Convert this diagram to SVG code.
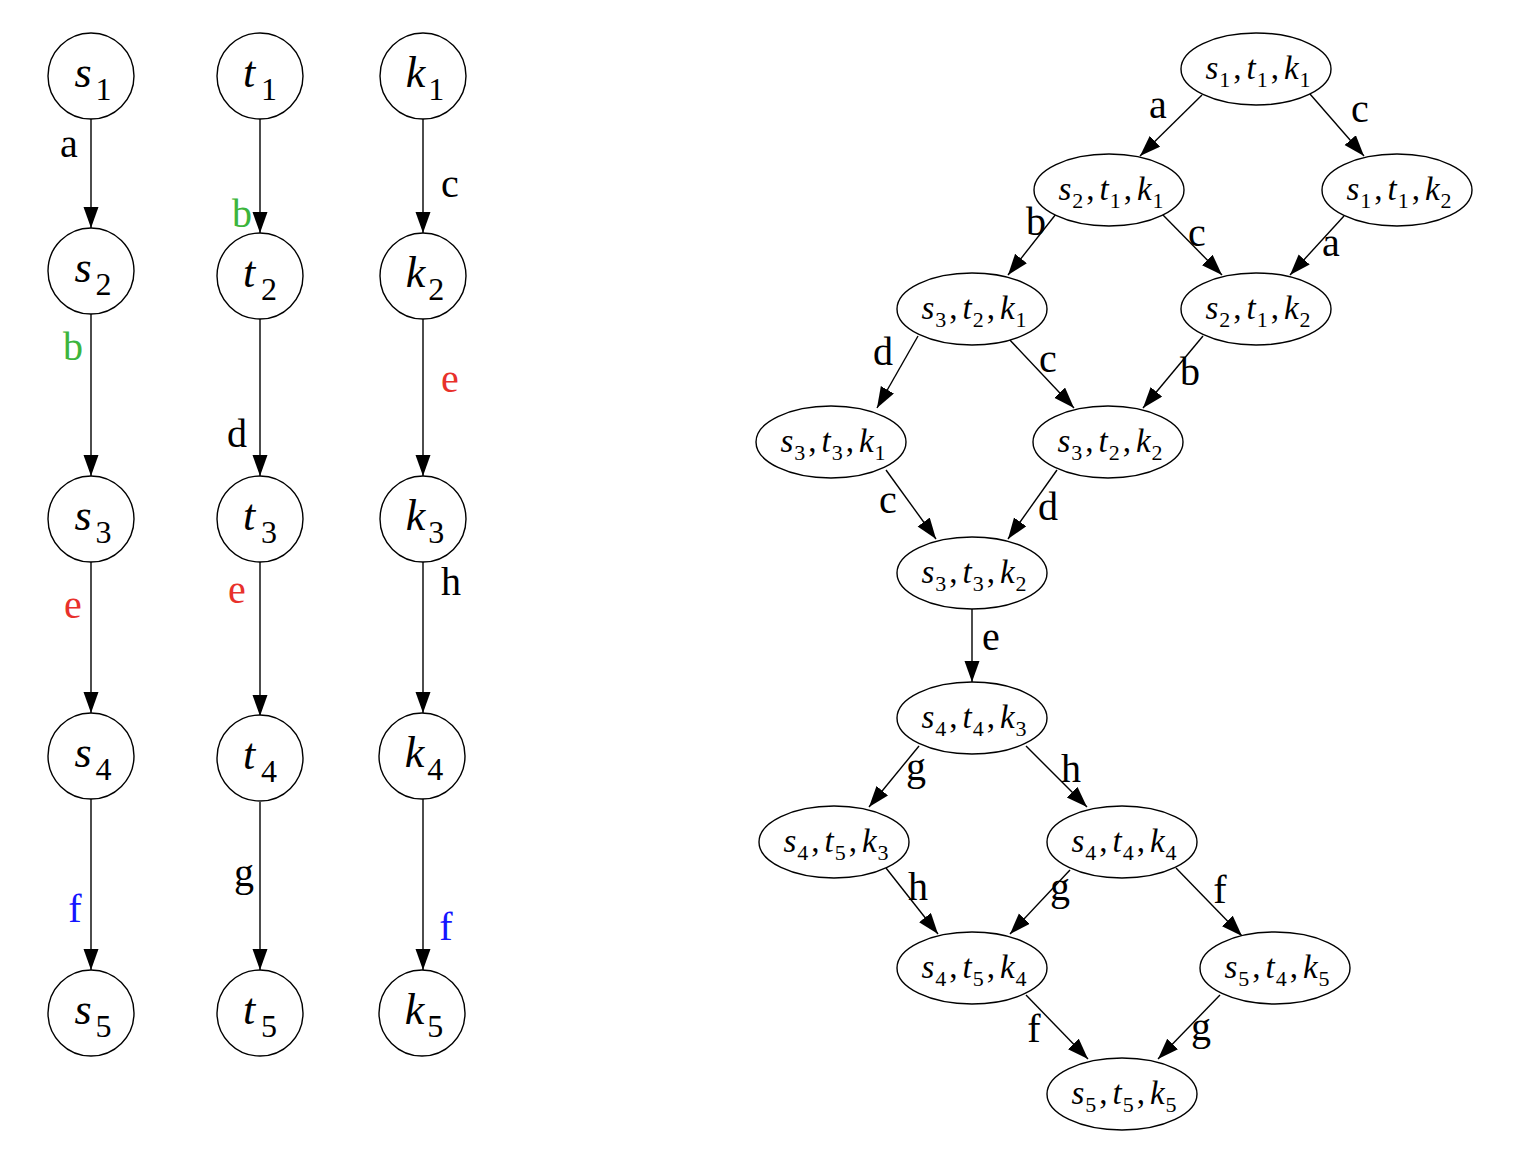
<svg xmlns="http://www.w3.org/2000/svg" width="1516" height="1160" viewBox="0 0 1516 1160">
<style>
.n{fill:#fff;stroke:#000;stroke-width:1.4}
.e{stroke:#000;stroke-width:1.4;fill:none;marker-end:url(#ah)}
text{font-family:"Liberation Serif","Times New Roman",serif;fill:#000}
.big{font-size:44px;text-anchor:middle}
.lab{font-size:40px;text-anchor:middle}
.sm{font-size:33px;text-anchor:middle}
.sm .d{font-size:22px}
.i{font-style:italic}
.g{fill:#3cb53c}
.r{fill:#e8312b}
.b{fill:#1515ff}
</style>
<defs>
<marker id="ah" markerUnits="userSpaceOnUse" markerWidth="22" markerHeight="16" refX="21" refY="7.5" orient="auto">
<path d="M0,0 L21,7.5 L0,15 z" fill="#000"/>
</marker>
</defs>
<rect width="1516" height="1160" fill="#fff"/>
<g id="connectors">
<line class="e" x1="91" y1="119" x2="91" y2="228"/>
<line class="e" x1="91" y1="314" x2="91" y2="476"/>
<line class="e" x1="91" y1="562" x2="91" y2="713"/>
<line class="e" x1="91" y1="799" x2="91" y2="970"/>
<line class="e" x1="260" y1="119" x2="260" y2="233"/>
<line class="e" x1="260" y1="319" x2="260" y2="476"/>
<line class="e" x1="260" y1="562" x2="260" y2="716"/>
<line class="e" x1="260" y1="802" x2="260" y2="970"/>
<line class="e" x1="423" y1="119" x2="423" y2="233"/>
<line class="e" x1="423" y1="319" x2="423" y2="476"/>
<line class="e" x1="423" y1="562" x2="423" y2="713"/>
<line class="e" x1="423" y1="799" x2="423" y2="970"/>
<line class="e" x1="1202" y1="95" x2="1140" y2="156"/>
<line class="e" x1="1310" y1="94" x2="1364" y2="156"/>
<line class="e" x1="1056" y1="214" x2="1008" y2="275"/>
<line class="e" x1="1162" y1="214" x2="1222" y2="275"/>
<line class="e" x1="1344" y1="216" x2="1290" y2="275"/>
<line class="e" x1="918" y1="336" x2="877" y2="408"/>
<line class="e" x1="1008" y1="338" x2="1074" y2="408"/>
<line class="e" x1="1203" y1="336" x2="1143" y2="408"/>
<line class="e" x1="886" y1="470" x2="936" y2="539"/>
<line class="e" x1="1057" y1="470" x2="1008" y2="539"/>
<line class="e" x1="972" y1="609" x2="972" y2="682"/>
<line class="e" x1="919" y1="746" x2="869" y2="807"/>
<line class="e" x1="1026" y1="746" x2="1087" y2="807"/>
<line class="e" x1="886" y1="868" x2="938" y2="934"/>
<line class="e" x1="1070" y1="870" x2="1010" y2="934"/>
<line class="e" x1="1176" y1="868" x2="1242" y2="936"/>
<line class="e" x1="1026" y1="995" x2="1088" y2="1059"/>
<line class="e" x1="1220" y1="995" x2="1158" y2="1059"/>
</g>
<g id="edge-labels">
<text class="lab" x="69" y="157">a</text>
<text class="lab g" x="242" y="227">b</text>
<text class="lab" x="450" y="197">c</text>
<text class="lab g" x="73" y="360">b</text>
<text class="lab" x="237" y="447">d</text>
<text class="lab r" x="450" y="392">e</text>
<text class="lab r" x="73" y="618">e</text>
<text class="lab r" x="237" y="603">e</text>
<text class="lab" x="451" y="595">h</text>
<text class="lab b" x="75" y="922">f</text>
<text class="lab" x="244" y="886">g</text>
<text class="lab b" x="446" y="940">f</text>
<text class="lab" x="1158" y="118">a</text>
<text class="lab" x="1360" y="122">c</text>
<text class="lab" x="1036" y="235">b</text>
<text class="lab" x="1197" y="246">c</text>
<text class="lab" x="1331" y="256">a</text>
<text class="lab" x="883" y="365">d</text>
<text class="lab" x="1048" y="372">c</text>
<text class="lab" x="1190" y="385">b</text>
<text class="lab" x="888" y="513">c</text>
<text class="lab" x="1048" y="520">d</text>
<text class="lab" x="991" y="650">e</text>
<text class="lab" x="916" y="780">g</text>
<text class="lab" x="1071" y="782">h</text>
<text class="lab" x="918" y="900">h</text>
<text class="lab" x="1060" y="900">g</text>
<text class="lab" x="1220" y="903">f</text>
<text class="lab" x="1034" y="1042">f</text>
<text class="lab" x="1201" y="1040">g</text>
</g>
<g id="s1"><circle class="n" cx="91" cy="76" r="43"/><text class="big" x="93" y="87"><tspan class="i">s</tspan><tspan dx="4" dy="13" font-size="32">1</tspan></text></g>
<g id="s2"><circle class="n" cx="91" cy="271" r="43"/><text class="big" x="93" y="282"><tspan class="i">s</tspan><tspan dx="4" dy="13" font-size="32">2</tspan></text></g>
<g id="s3"><circle class="n" cx="91" cy="519" r="43"/><text class="big" x="93" y="530"><tspan class="i">s</tspan><tspan dx="4" dy="13" font-size="32">3</tspan></text></g>
<g id="s4"><circle class="n" cx="91" cy="756" r="43"/><text class="big" x="93" y="767"><tspan class="i">s</tspan><tspan dx="4" dy="13" font-size="32">4</tspan></text></g>
<g id="s5"><circle class="n" cx="91" cy="1013" r="43"/><text class="big" x="93" y="1024"><tspan class="i">s</tspan><tspan dx="4" dy="13" font-size="32">5</tspan></text></g>
<g id="t1"><circle class="n" cx="260" cy="76" r="43"/><text class="big" x="260" y="87"><tspan class="i">t</tspan><tspan dx="6" dy="13" font-size="32">1</tspan></text></g>
<g id="t2"><circle class="n" cx="260" cy="276" r="43"/><text class="big" x="260" y="287"><tspan class="i">t</tspan><tspan dx="6" dy="13" font-size="32">2</tspan></text></g>
<g id="t3"><circle class="n" cx="260" cy="519" r="43"/><text class="big" x="260" y="530"><tspan class="i">t</tspan><tspan dx="6" dy="13" font-size="32">3</tspan></text></g>
<g id="t4"><circle class="n" cx="260" cy="758" r="43"/><text class="big" x="260" y="769"><tspan class="i">t</tspan><tspan dx="6" dy="13" font-size="32">4</tspan></text></g>
<g id="t5"><circle class="n" cx="260" cy="1013" r="43"/><text class="big" x="260" y="1024"><tspan class="i">t</tspan><tspan dx="6" dy="13" font-size="32">5</tspan></text></g>
<g id="k1"><circle class="n" cx="423" cy="76" r="43"/><text class="big" x="425" y="87"><tspan class="i">k</tspan><tspan dx="3" dy="13" font-size="32">1</tspan></text></g>
<g id="k2"><circle class="n" cx="423" cy="276" r="43"/><text class="big" x="425" y="287"><tspan class="i">k</tspan><tspan dx="3" dy="13" font-size="32">2</tspan></text></g>
<g id="k3"><circle class="n" cx="423" cy="519" r="43"/><text class="big" x="425" y="530"><tspan class="i">k</tspan><tspan dx="3" dy="13" font-size="32">3</tspan></text></g>
<g id="k4"><circle class="n" cx="422" cy="756" r="43"/><text class="big" x="424" y="767"><tspan class="i">k</tspan><tspan dx="3" dy="13" font-size="32">4</tspan></text></g>
<g id="k5"><circle class="n" cx="422" cy="1013" r="43"/><text class="big" x="424" y="1024"><tspan class="i">k</tspan><tspan dx="3" dy="13" font-size="32">5</tspan></text></g>
<g id="s1t1k1"><ellipse class="n" cx="1256" cy="69" rx="75" ry="36"/><text class="sm" x="1258" y="79"><tspan class="i">s</tspan><tspan class="d" dx="1" dy="8">1</tspan><tspan dx="3" dy="-8">,</tspan><tspan class="i" dx="5">t</tspan><tspan class="d" dx="1" dy="8">1</tspan><tspan dx="3" dy="-8">,</tspan><tspan class="i" dx="5">k</tspan><tspan class="d" dx="1" dy="8">1</tspan></text></g>
<g id="s2t1k1"><ellipse class="n" cx="1109" cy="190" rx="75" ry="36"/><text class="sm" x="1111" y="200"><tspan class="i">s</tspan><tspan class="d" dx="1" dy="8">2</tspan><tspan dx="3" dy="-8">,</tspan><tspan class="i" dx="5">t</tspan><tspan class="d" dx="1" dy="8">1</tspan><tspan dx="3" dy="-8">,</tspan><tspan class="i" dx="5">k</tspan><tspan class="d" dx="1" dy="8">1</tspan></text></g>
<g id="s1t1k2"><ellipse class="n" cx="1397" cy="190" rx="75" ry="36"/><text class="sm" x="1399" y="200"><tspan class="i">s</tspan><tspan class="d" dx="1" dy="8">1</tspan><tspan dx="3" dy="-8">,</tspan><tspan class="i" dx="5">t</tspan><tspan class="d" dx="1" dy="8">1</tspan><tspan dx="3" dy="-8">,</tspan><tspan class="i" dx="5">k</tspan><tspan class="d" dx="1" dy="8">2</tspan></text></g>
<g id="s3t2k1"><ellipse class="n" cx="972" cy="309" rx="75" ry="36"/><text class="sm" x="974" y="319"><tspan class="i">s</tspan><tspan class="d" dx="1" dy="8">3</tspan><tspan dx="3" dy="-8">,</tspan><tspan class="i" dx="5">t</tspan><tspan class="d" dx="1" dy="8">2</tspan><tspan dx="3" dy="-8">,</tspan><tspan class="i" dx="5">k</tspan><tspan class="d" dx="1" dy="8">1</tspan></text></g>
<g id="s2t1k2"><ellipse class="n" cx="1256" cy="309" rx="75" ry="36"/><text class="sm" x="1258" y="319"><tspan class="i">s</tspan><tspan class="d" dx="1" dy="8">2</tspan><tspan dx="3" dy="-8">,</tspan><tspan class="i" dx="5">t</tspan><tspan class="d" dx="1" dy="8">1</tspan><tspan dx="3" dy="-8">,</tspan><tspan class="i" dx="5">k</tspan><tspan class="d" dx="1" dy="8">2</tspan></text></g>
<g id="s3t3k1"><ellipse class="n" cx="831" cy="442" rx="75" ry="36"/><text class="sm" x="833" y="452"><tspan class="i">s</tspan><tspan class="d" dx="1" dy="8">3</tspan><tspan dx="3" dy="-8">,</tspan><tspan class="i" dx="5">t</tspan><tspan class="d" dx="1" dy="8">3</tspan><tspan dx="3" dy="-8">,</tspan><tspan class="i" dx="5">k</tspan><tspan class="d" dx="1" dy="8">1</tspan></text></g>
<g id="s3t2k2"><ellipse class="n" cx="1108" cy="442" rx="75" ry="36"/><text class="sm" x="1110" y="452"><tspan class="i">s</tspan><tspan class="d" dx="1" dy="8">3</tspan><tspan dx="3" dy="-8">,</tspan><tspan class="i" dx="5">t</tspan><tspan class="d" dx="1" dy="8">2</tspan><tspan dx="3" dy="-8">,</tspan><tspan class="i" dx="5">k</tspan><tspan class="d" dx="1" dy="8">2</tspan></text></g>
<g id="s3t3k2"><ellipse class="n" cx="972" cy="573" rx="75" ry="36"/><text class="sm" x="974" y="583"><tspan class="i">s</tspan><tspan class="d" dx="1" dy="8">3</tspan><tspan dx="3" dy="-8">,</tspan><tspan class="i" dx="5">t</tspan><tspan class="d" dx="1" dy="8">3</tspan><tspan dx="3" dy="-8">,</tspan><tspan class="i" dx="5">k</tspan><tspan class="d" dx="1" dy="8">2</tspan></text></g>
<g id="s4t4k3"><ellipse class="n" cx="972" cy="718" rx="75" ry="36"/><text class="sm" x="974" y="728"><tspan class="i">s</tspan><tspan class="d" dx="1" dy="8">4</tspan><tspan dx="3" dy="-8">,</tspan><tspan class="i" dx="5">t</tspan><tspan class="d" dx="1" dy="8">4</tspan><tspan dx="3" dy="-8">,</tspan><tspan class="i" dx="5">k</tspan><tspan class="d" dx="1" dy="8">3</tspan></text></g>
<g id="s4t5k3"><ellipse class="n" cx="834" cy="842" rx="75" ry="36"/><text class="sm" x="836" y="852"><tspan class="i">s</tspan><tspan class="d" dx="1" dy="8">4</tspan><tspan dx="3" dy="-8">,</tspan><tspan class="i" dx="5">t</tspan><tspan class="d" dx="1" dy="8">5</tspan><tspan dx="3" dy="-8">,</tspan><tspan class="i" dx="5">k</tspan><tspan class="d" dx="1" dy="8">3</tspan></text></g>
<g id="s4t4k4"><ellipse class="n" cx="1122" cy="842" rx="75" ry="36"/><text class="sm" x="1124" y="852"><tspan class="i">s</tspan><tspan class="d" dx="1" dy="8">4</tspan><tspan dx="3" dy="-8">,</tspan><tspan class="i" dx="5">t</tspan><tspan class="d" dx="1" dy="8">4</tspan><tspan dx="3" dy="-8">,</tspan><tspan class="i" dx="5">k</tspan><tspan class="d" dx="1" dy="8">4</tspan></text></g>
<g id="s4t5k4"><ellipse class="n" cx="972" cy="968" rx="75" ry="36"/><text class="sm" x="974" y="978"><tspan class="i">s</tspan><tspan class="d" dx="1" dy="8">4</tspan><tspan dx="3" dy="-8">,</tspan><tspan class="i" dx="5">t</tspan><tspan class="d" dx="1" dy="8">5</tspan><tspan dx="3" dy="-8">,</tspan><tspan class="i" dx="5">k</tspan><tspan class="d" dx="1" dy="8">4</tspan></text></g>
<g id="s5t4k5"><ellipse class="n" cx="1275" cy="968" rx="75" ry="36"/><text class="sm" x="1277" y="978"><tspan class="i">s</tspan><tspan class="d" dx="1" dy="8">5</tspan><tspan dx="3" dy="-8">,</tspan><tspan class="i" dx="5">t</tspan><tspan class="d" dx="1" dy="8">4</tspan><tspan dx="3" dy="-8">,</tspan><tspan class="i" dx="5">k</tspan><tspan class="d" dx="1" dy="8">5</tspan></text></g>
<g id="s5t5k5"><ellipse class="n" cx="1122" cy="1094" rx="75" ry="36"/><text class="sm" x="1124" y="1104"><tspan class="i">s</tspan><tspan class="d" dx="1" dy="8">5</tspan><tspan dx="3" dy="-8">,</tspan><tspan class="i" dx="5">t</tspan><tspan class="d" dx="1" dy="8">5</tspan><tspan dx="3" dy="-8">,</tspan><tspan class="i" dx="5">k</tspan><tspan class="d" dx="1" dy="8">5</tspan></text></g>
</svg>
